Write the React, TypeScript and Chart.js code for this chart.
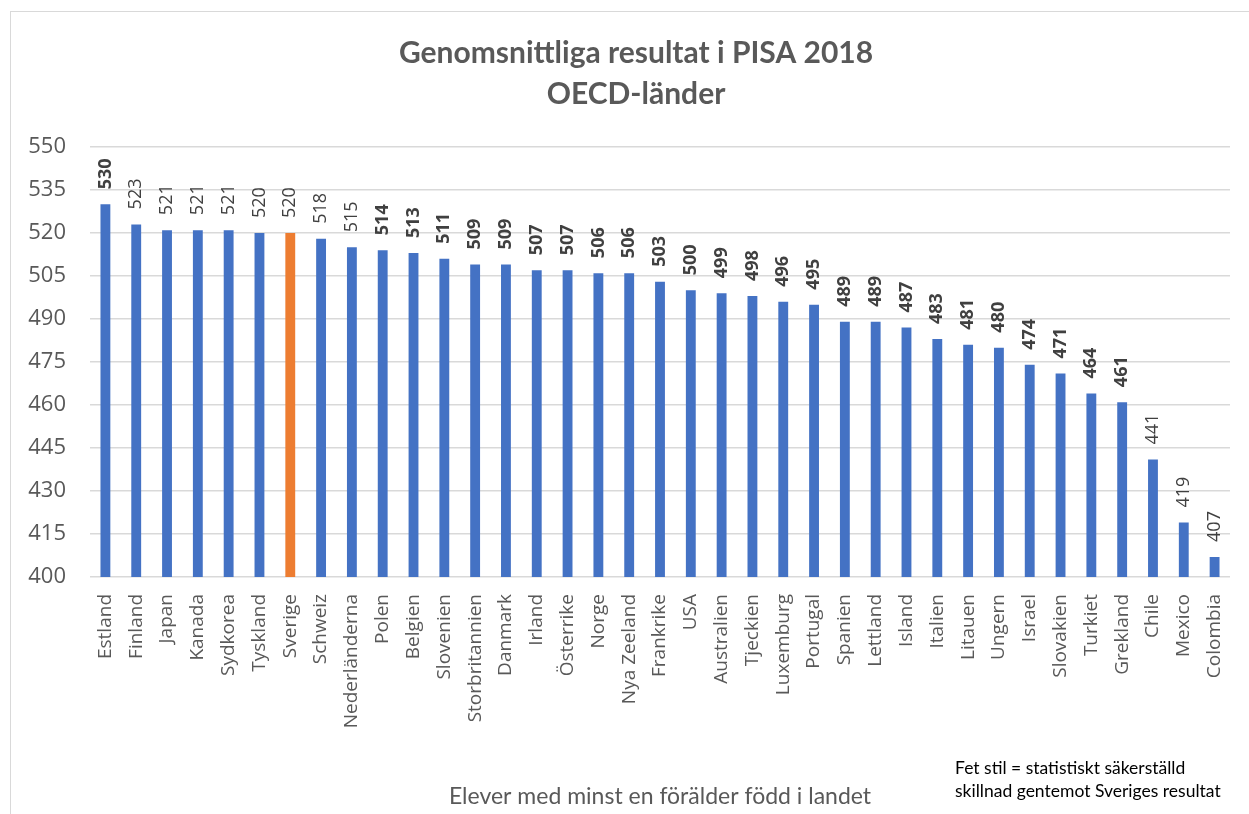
import React, { useEffect, useRef } from "react";
import { Chart, registerables } from "chart.js";

Chart.register(...registerables);

const categories = [
  "Estland", "Finland", "Japan", "Kanada", "Sydkorea", "Tyskland", "Sverige", "Schweiz",
  "Nederländerna", "Polen", "Belgien", "Slovenien", "Storbritannien", "Danmark", "Irland",
  "Österrike", "Norge", "Nya Zeeland", "Frankrike", "USA", "Australien", "Tjeckien",
  "Luxemburg", "Portugal", "Spanien", "Lettland", "Island", "Italien", "Litauen", "Ungern",
  "Israel", "Slovakien", "Turkiet", "Grekland", "Chile", "Mexico", "Colombia",
];

const values = [
  530, 523, 521, 521, 521, 520, 520, 518, 515, 514, 513, 511, 509, 509, 507, 507, 506, 506,
  503, 500, 499, 498, 496, 495, 489, 489, 487, 483, 481, 480, 474, 471, 464, 461, 441, 419, 407,
];

// true = label shown in bold (statistically significant difference vs Sweden)
const boldLabels = [
  true, false, false, false, false, false, false, false, false, true, true, true, true, true,
  true, true, true, true, true, true, true, true, true, true, true, true, true, true, true,
  true, true, true, true, true, false, false, false,
];

const highlight = "Sverige";
const titleLines = ["Genomsnittliga resultat i PISA 2018", "OECD-länder"];
const xTitle = "Elever med minst en förälder född i landet";
const noteLines = ["Fet stil = statistiskt säkerställd", "skillnad gentemot Sveriges resultat"];

const BLUE = "#4472C4";
const ORANGE = "#ED7D31";
const GRAY_TEXT = "#595959";
const GRID = "#d9d9d9";

const decorPlugin = {
  id: "decor",
  beforeDraw(chart: any) {
    const ctx = chart.ctx;
    ctx.save();
    ctx.fillStyle = "#ffffff";
    ctx.fillRect(0, 0, chart.width, chart.height);
    ctx.strokeStyle = "#d9d9d9";
    ctx.lineWidth = 1;
    ctx.strokeRect(10.5, 11.5, chart.width + 20, chart.height + 20);
    ctx.restore();
  },
  afterDatasetsDraw(chart: any) {
    const ctx = chart.ctx;
    const meta = chart.getDatasetMeta(0);
    meta.data.forEach((bar: any, i: number) => {
      ctx.save();
      ctx.translate(bar.x, bar.y - 15);
      ctx.rotate(-Math.PI / 2);
      ctx.font = `${boldLabels[i] ? "bold " : ""}18px "Open Sans"`;
      ctx.fillStyle = "#404040";
      ctx.textAlign = "left";
      ctx.textBaseline = "middle";
      ctx.fillText(String(values[i]), 0, 0);
      ctx.restore();
    });
  },
  afterDraw(chart: any) {
    const ctx = chart.ctx;
    const area = chart.chartArea;
    ctx.save();
    ctx.fillStyle = GRAY_TEXT;
    ctx.textAlign = "center";
    ctx.textBaseline = "middle";
    ctx.font = 'bold 30px "Lato"';
    ctx.fillText(titleLines[0], 636, 53);
    ctx.fillText(titleLines[1], 636, 94);

    ctx.font = '23px "Lato"';
    ctx.fillText(xTitle, (area.left + area.right) / 2, 797);

    ctx.fillStyle = "#000000";
    ctx.textAlign = "left";
    ctx.font = '17.5px "Lato"';
    ctx.fillText(noteLines[0], 955, 768);
    ctx.fillText(noteLines[1], 955, 791);
    ctx.restore();
  },
};

export default function App() {
  const canvasRef = useRef<HTMLCanvasElement | null>(null);

  useEffect(() => {
    document.body.style.margin = "0";
    const canvas = canvasRef.current;
    if (!canvas) return;
    const chart = new Chart(canvas, {
      type: "bar",
      data: {
        labels: categories,
        datasets: [
          {
            data: values,
            backgroundColor: categories.map((c) => (c === highlight ? ORANGE : BLUE)),
            barPercentage: 0.32,
            categoryPercentage: 1,
          },
        ],
      },
      options: {
        animation: false,
        responsive: false,
        layout: { padding: { top: 147, right: 19, left: 0, bottom: 0 } },
        plugins: {
          legend: { display: false },
          title: { display: false },
          tooltip: { enabled: false },
        },
        scales: {
          x: {
            grid: { display: false },
            border: { display: false },
            ticks: {
              autoSkip: false,
              minRotation: 90,
              maxRotation: 90,
              padding: 9,
              color: GRAY_TEXT,
              font: { family: "Open Sans", size: 19 },
            },
            afterFit: (scale: any) => {
              scale.height = 237;
            },
          },
          y: {
            min: 400,
            max: 550,
            ticks: {
              stepSize: 15,
              padding: 24,
              color: GRAY_TEXT,
              font: { family: "Open Sans", size: 22 },
            },
            grid: { color: GRID, lineWidth: 1.5, drawTicks: false },
            border: { display: false },
            afterFit: (scale: any) => {
              scale.width = 90;
            },
          },
        },
      },
      plugins: [decorPlugin],
    });
    return () => chart.destroy();
  }, []);

  return (
    <div style={{ position: "absolute", left: 0, top: 0, width: 1249, height: 814 }}>
      <canvas ref={canvasRef} width={1249} height={814} style={{ display: "block" }} />
    </div>
  );
}
